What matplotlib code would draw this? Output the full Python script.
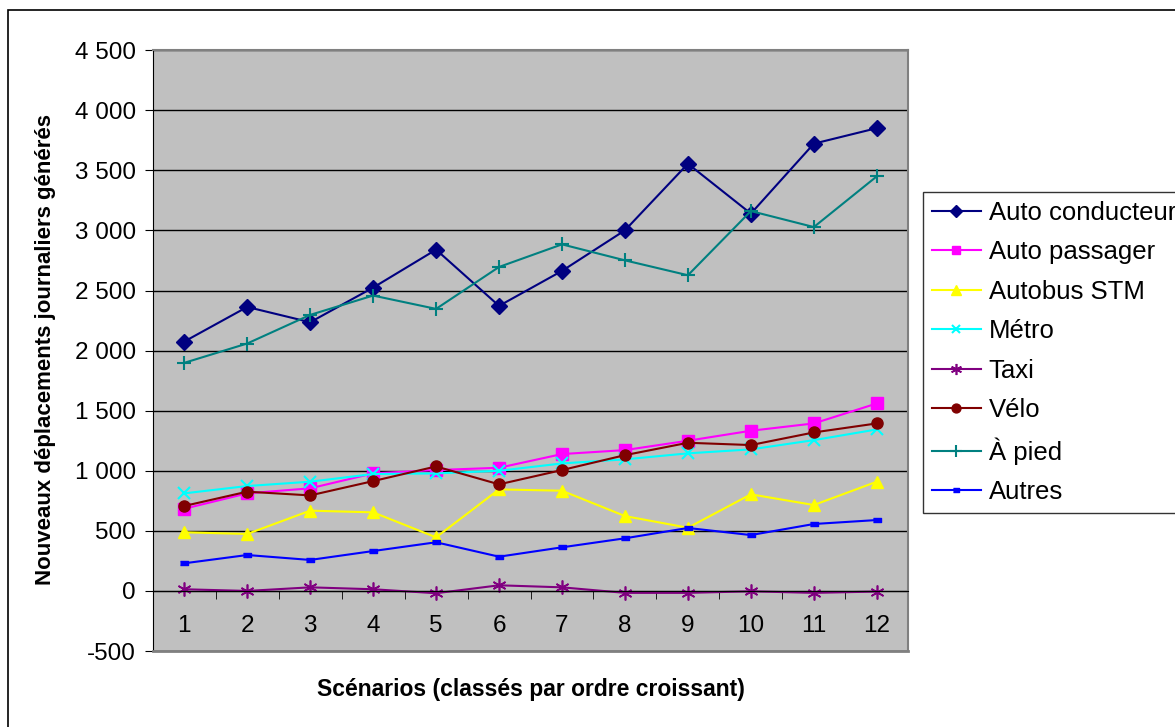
import matplotlib.pyplot as plt
import matplotlib.ticker as mticker
from matplotlib.patches import Rectangle

plt.rcParams['font.family'] = ['Liberation Sans', 'DejaVu Sans']

scenarios = list(range(1, 13))
auto_conducteur = [2075, 2363, 2236, 2524, 2840, 2372, 2663, 3001, 3555, 3140, 3722, 3851]
auto_passager = [684, 812, 854, 978, 1006, 1025, 1139, 1172, 1250, 1333, 1394, 1560]
autobus_stm = [488, 474, 668, 654, 446, 845, 834, 623, 526, 804, 715, 909]
metro = [812, 873, 909, 973, 978, 1000, 1061, 1095, 1145, 1178, 1255, 1344]
taxi = [14, 0, 30, 14, -19, 47, 30, -16, -16, -3, -16, -5]
velo = [707, 826, 795, 914, 1036, 887, 1006, 1130, 1233, 1214, 1319, 1394]
a_pied = [1898, 2059, 2297, 2458, 2347, 2696, 2884, 2751, 2627, 3161, 3028, 3450]
autres = [230, 299, 258, 332, 405, 285, 363, 438, 524, 465, 557, 590]

rect = [(-1, -0.45), (1, -0.45), (1, 0.45), (-1, 0.45)]
series = [
    ("Auto conducteur", auto_conducteur, "#000080", "D", 8, 1.0),
    ("Auto passager", auto_passager, "#FF00FF", "s", 8, 1.0),
    ("Autobus STM", autobus_stm, "#FFFF00", "^", 9, 1.0),
    ("Métro", metro, "#00FFFF", "x", 8, 1.5),
    ("Taxi", taxi, "#800080", (6, 2, 0), 10, 1.2),
    ("Vélo", velo, "#800000", "o", 8, 1.0),
    ("À pied", a_pied, "#008080", "+", 10, 1.5),
    ("Autres", autres, "#0000FF", rect, 6, 1.0),
]

fig = plt.figure(figsize=(11.75, 7.27), dpi=100)
ax = fig.add_axes([0.130, 0.1045, 0.643, 0.8265])
ax.set_facecolor("#C0C0C0")

for name, vals, col, mk, ms, mew in series:
    ax.plot(scenarios, vals, color=col, lw=1.5, marker=mk, markersize=ms,
            markerfacecolor=col, markeredgecolor=col, markeredgewidth=mew, label=name)

ax.set_xlim(0.5, 12.5)
ax.set_ylim(-500, 4500)
ax.set_yticks(range(-500, 4501, 500))
ax.yaxis.set_major_formatter(mticker.FuncFormatter(lambda v, p: f"{int(v):,}".replace(",", " ")))
ax.grid(axis="y", color="black", lw=1)
ax.set_axisbelow(True)
ax.axhline(-500, color="#808080", lw=2, clip_on=False, zorder=3)

ax.spines['bottom'].set_position(('data', 0))
ax.spines['top'].set_color("#808080")
ax.spines['right'].set_color("#808080")
ax.spines['top'].set_linewidth(1.5)
ax.spines['right'].set_linewidth(1.5)
ax.set_xticks(scenarios)
ax.set_xticks([i + 0.5 for i in range(0, 13)], minor=True)
ax.tick_params(axis='x', which='major', length=0, pad=17, labelsize=17.5)
ax.tick_params(axis='x', which='minor', length=6, direction='out')
ax.tick_params(axis='y', length=6, pad=6, labelsize=17.5)

fig.text(46 / 1175, 0.5186, "Nouveaux déplacements journaliers générés", rotation=90,
         ha='center', va='center', fontsize=16, fontweight='bold')
fig.text(0.4515, 0.0509, "Scénarios (classés par ordre croissant)",
         ha='center', va='center', fontsize=16.5, fontweight='bold')

leg = ax.legend(loc='upper left', bbox_to_anchor=(923 / 1175, 1 - 192 / 727), bbox_transform=fig.transFigure,
                fontsize=18.5, frameon=True, fancybox=False, edgecolor='black', borderaxespad=0,
                handlelength=1.9, labelspacing=0.6, borderpad=0.35, handletextpad=0.3, markerscale=0.8)
leg.get_frame().set_linewidth(1)

fig.patches.append(Rectangle((8 / 1175, -0.05), 1.1, 1 - 10 / 727 + 0.05, transform=fig.transFigure,
                             fill=False, edgecolor='black', lw=1.2))

fig.savefig("out.png", dpi=100)
